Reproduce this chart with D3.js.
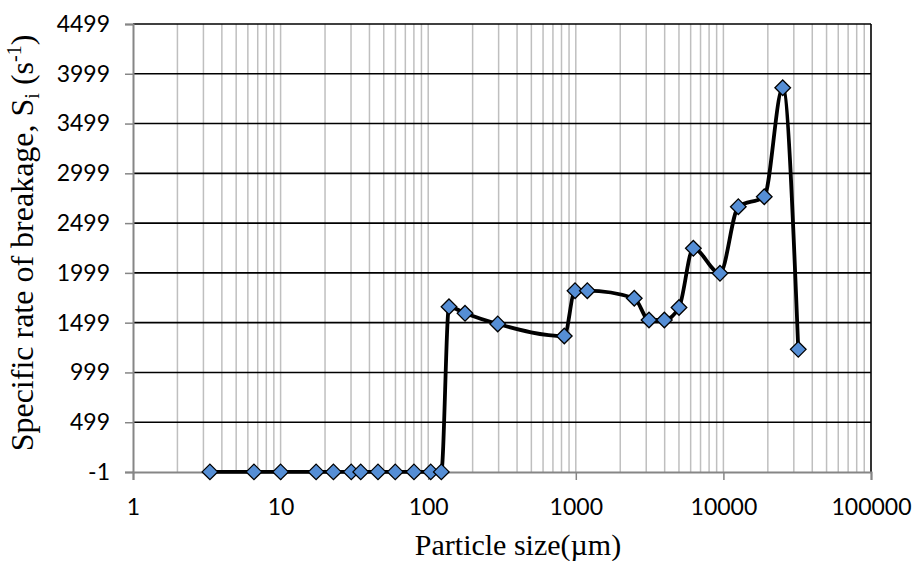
<!DOCTYPE html>
<html lang="en">
<head>
    <meta charset="UTF-8">
    <title>Specific rate of breakage</title>
    <script src="https://d3js.org/d3.v7.min.js"></script>
    <style>
        body { margin: 0; background: #fff; }
    </style>
</head>
<body>
    <svg id="chart" width="914" height="561"></svg>

    <script>
        // particle size (µm) and specific rate of breakage S_i (1/s)
        const sizes = [3.32, 6.6, 10, 17.4, 22.8, 30.1, 34.9, 45.7, 59.8, 80.1, 104, 122.7,
                       138.3, 177.6, 295.8, 835.6, 988, 1197, 2490, 3133, 3981, 5003,
                       6256, 9483, 12620, 18920, 25230, 32150];
        const rates = [0, 0, 0, 0, 0, 0, 0, 0, 0, 0, 0, 0,
                       1659, 1593, 1486, 1365, 1820, 1820, 1744, 1526, 1526, 1651,
                       2246, 1995, 2664, 2764, 3859, 1231];
        const yTicks = [-1, 499, 999, 1499, 1999, 2499, 2999, 3499, 3999, 4499];
        const xTicks = [1, 10, 100, 1000, 10000, 100000];

        const plot = { left: 133, right: 871, top: 24, bottom: 472 };
        const sansFont = "Lato, 'Open Sans', sans-serif";
        const serifFont = "'Liberation Serif', 'Times New Roman', serif";

        const svg = d3.select("#chart");

        const x = d3.scaleLog().domain([1, 100000]).range([plot.left, plot.right]);
        const y = d3.scaleLinear().domain([-1, 4499]).range([plot.bottom, plot.top]);

        // vertical log grid (all grey)
        const minor = [];
        for (let d = 1; d < 100000; d *= 10) {
            for (let k = 1; k < 10; k++) minor.push(d * k);
        }
        svg.append("g")
            .selectAll("line")
            .data(minor.filter(v => v > 1))
            .enter()
            .append("line")
            .attr("x1", d => x(d)).attr("x2", d => x(d))
            .attr("y1", plot.top).attr("y2", plot.bottom)
            .attr("stroke", "#bfbfbf")
            .attr("stroke-width", 1.5);

        // horizontal grid (black)
        svg.append("g")
            .selectAll("line")
            .data(yTicks.slice(1))
            .enter()
            .append("line")
            .attr("x1", plot.left).attr("x2", plot.right)
            .attr("y1", d => y(d)).attr("y2", d => y(d))
            .attr("stroke", "#000")
            .attr("stroke-width", 1.6);

        // right border
        svg.append("line")
            .attr("x1", plot.right).attr("x2", plot.right)
            .attr("y1", plot.top).attr("y2", plot.bottom)
            .attr("stroke", "#000")
            .attr("stroke-width", 1.6);

        // y axis
        const yAxis = svg.append("g")
            .attr("transform", `translate(${plot.left},0)`)
            .call(d3.axisLeft(y).tickValues(yTicks).tickSize(8).tickPadding(15).tickFormat(d => String(d)));
        yAxis.select(".domain").attr("stroke", "#868686").attr("stroke-width", 2);
        yAxis.selectAll(".tick line").attr("stroke", "#868686").attr("stroke-width", 1.5);
        yAxis.selectAll(".tick text")
            .attr("font-family", sansFont).attr("font-size", 23).attr("fill", "#000");

        // x axis
        const xAxis = svg.append("g")
            .attr("transform", `translate(0,${plot.bottom})`)
            .call(d3.axisBottom(x).tickValues(xTicks).tickSize(8).tickPadding(19).tickFormat(d => String(d)));
        xAxis.select(".domain").attr("stroke", "#868686").attr("stroke-width", 2);
        xAxis.selectAll(".tick line").attr("stroke", "#868686").attr("stroke-width", 1.5);
        xAxis.selectAll(".tick text")
            .attr("font-family", sansFont).attr("font-size", 23).attr("fill", "#000");

        const points = sizes.map((s, i) => ({ size: s, rate: rates[i] }));

        // smoothed line
        const line = d3.line()
            .x(d => x(d.size))
            .y(d => y(d.rate))
            .curve(d3.curveMonotoneX);

        svg.append("path")
            .datum(points)
            .attr("d", line)
            .attr("fill", "none")
            .attr("stroke", "#000")
            .attr("stroke-width", 3.8)
            .attr("stroke-linejoin", "round");

        // diamond markers
        svg.append("g")
            .selectAll("path")
            .data(points)
            .enter()
            .append("path")
            .attr("transform", d => `translate(${x(d.size)},${y(d.rate)})`)
            .attr("d", "M0,-7.8L7.8,0L0,7.8L-7.8,0Z")
            .attr("fill", "#558ed5")
            .attr("stroke", "#000")
            .attr("stroke-width", 1.3);

        // axis titles
        svg.append("text")
            .attr("font-family", serifFont)
            .attr("font-size", 30)
            .attr("x", 518)
            .attr("y", 555)
            .attr("text-anchor", "middle")
            .text("Particle size(µm)");

        const yTitle = svg.append("text")
            .attr("font-family", serifFont)
            .attr("font-size", 32)
            .attr("transform", "translate(33,243) rotate(-90)")
            .attr("text-anchor", "middle");
        yTitle.append("tspan").text("Specific rate of  breakage, S");
        yTitle.append("tspan").attr("font-size", 20).attr("dy", 6).text("i");
        yTitle.append("tspan").attr("dy", -6).text(" (s");
        yTitle.append("tspan").attr("font-size", 20).attr("dy", -12).text("-1");
        yTitle.append("tspan").attr("dy", 12).text(")");
    </script>
</body>
</html>
